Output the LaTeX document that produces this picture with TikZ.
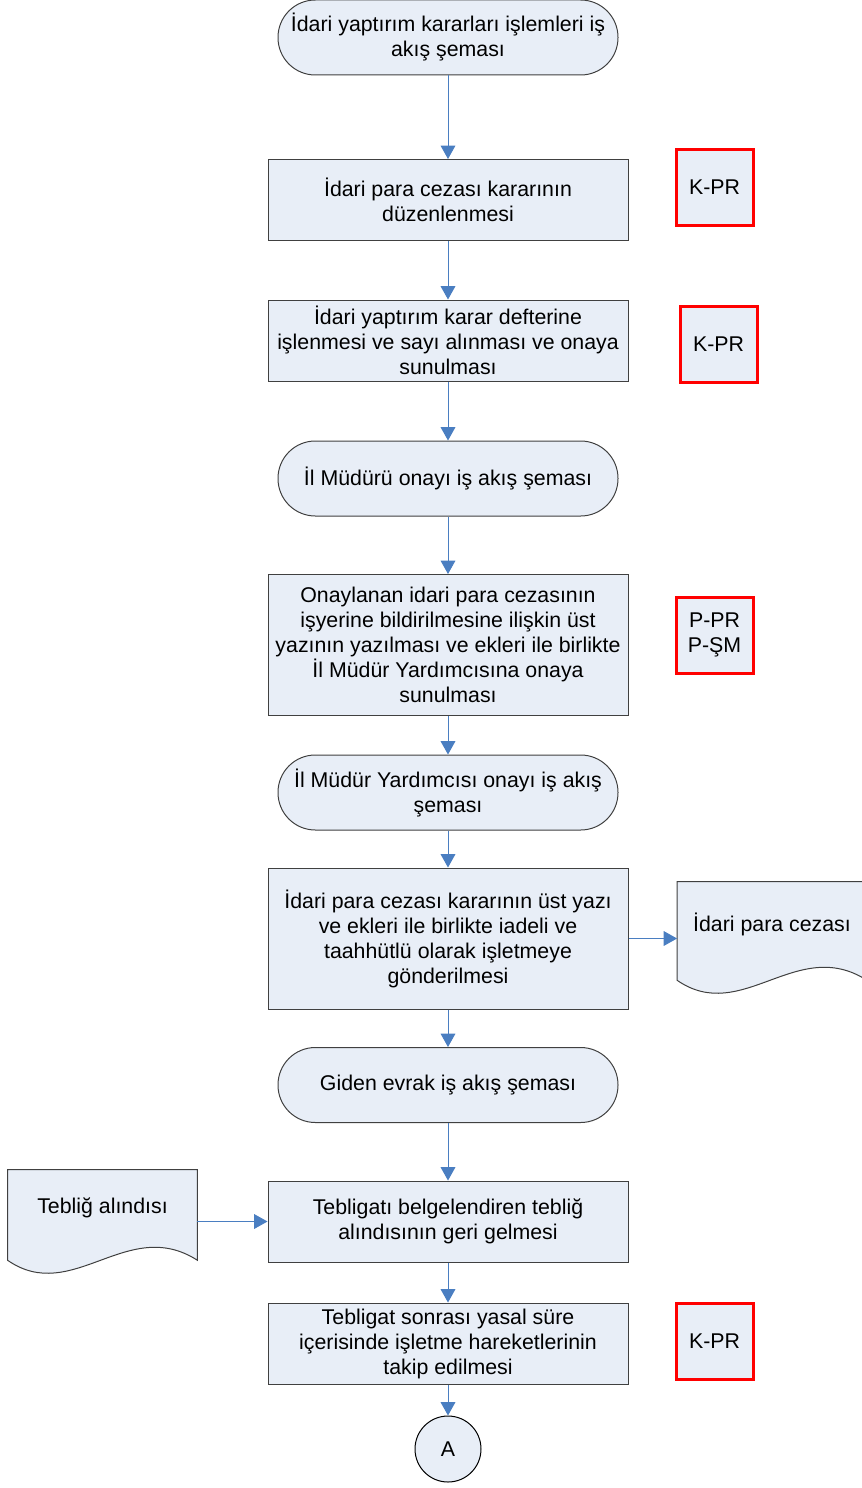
\documentclass[tikz,border=0pt]{standalone}
\usepackage{fontspec}
\setmainfont{Liberation Sans}
\usetikzlibrary{arrows.meta,calc,backgrounds}

\definecolor{boxfill}{RGB}{232,238,247}
\definecolor{linegrey}{RGB}{64,64,64}
\definecolor{flowblue}{RGB}{74,126,193}
\definecolor{refred}{RGB}{255,0,0}

% wavy bottom of a document node, drawn behind its text
\newcommand{\docshape}[1]{
  \begin{pgfonlayer}{background}
    \filldraw[draw=linegrey,fill=boxfill,line width=0.75pt]
      (#1.north west) -- (#1.north east) -- ($(#1.south east)+(0,14)$)
      .. controls +(-70,-45) and +(65,45) .. ($(#1.south west)+(0,14)$) -- cycle;
  \end{pgfonlayer}
}

\begin{document}
\begin{tikzpicture}[x=0.75pt,y=-0.75pt,
    every node/.style={font=\fontsize{16}{18.75}\selectfont,align=center,inner sep=0pt},
    proc/.style={rectangle,draw=linegrey,fill=boxfill,line width=0.75pt,
                 minimum width=270pt,minimum height=60.75pt},
    tallproc/.style={proc,minimum height=105.75pt},
    term/.style={rectangle,rounded corners=28pt,draw=linegrey,fill=boxfill,line width=0.75pt,
                 minimum width=255pt,minimum height=56.25pt},
    refbox/.style={rectangle,draw=refred,fill=boxfill,line width=2.25pt,
                   minimum width=57.75pt,minimum height=57pt},
    docnode/.style={rectangle,minimum width=142pt,minimum height=#1},
    conn/.style={circle,draw=black,fill=boxfill,line width=0.75pt,minimum size=49.5pt},
    flowline/.style={draw=flowblue,line width=0.75pt,-{Triangle[width=11pt,length=10pt]}}]

  \useasboundingbox (0,0) rectangle (861,1488);

  \node[term] (t1) at (448,37.5) {İdari yaptırım kararları işlemleri iş\\akış şeması};
  \node[proc] (b1) at (448,200) {İdari para cezası kararının\\düzenlenmesi};
  \node[refbox] (r1) at (714.5,187) {K-PR};
  \node[proc] (b2) at (448,340.5) {İdari yaptırım karar defterine\\işlenmesi ve sayı alınması ve onaya\\sunulması};
  \node[refbox] (r2) at (718.5,344) {K-PR};
  \node[term] (t2) at (448,478.5) {İl Müdürü onayı iş akış şeması};
  \node[tallproc] (b3) at (448,645) {Onaylanan idari para cezasının\\işyerine bildirilmesine ilişkin üst\\yazının yazılması ve ekleri ile birlikte\\İl Müdür Yardımcısına onaya\\sunulması};
  \node[refbox] (r3) at (714.5,635) {P-PR\\P-ŞM};
  \node[term] (t3) at (448,792.5) {İl Müdür Yardımcısı onayı iş akış\\şeması};
  \node[tallproc] (b4) at (448,938.5) {İdari para cezası kararının üst yazı\\ve ekleri ile birlikte iadeli ve\\taahhütlü olarak işletmeye\\gönderilmesi};
  \node[docnode=63pt] (d1) at (772,924) {İdari para cezası};
  \docshape{d1}
  \node[term] (t4) at (448,1085) {Giden evrak iş akış şeması};
  \node[proc] (b5) at (448,1221.5) {Tebligatı belgelendiren tebliğ\\alındısının geri gelmesi};
  \node[docnode=57pt] (d2) at (102.5,1208) {Tebliğ alındısı};
  \docshape{d2}
  \node[proc] (b6) at (448,1343.5) {Tebligat sonrası yasal süre\\içerisinde işletme hareketlerinin\\takip edilmesi};
  \node[refbox] (r4) at (714.5,1341.5) {K-PR};
  \node[conn] (cA) at (448,1449) {A};

  \draw[flowline] (t1) -- (b1);
  \draw[flowline] (b1) -- (b2);
  \draw[flowline] (b2) -- (t2);
  \draw[flowline] (t2) -- (b3);
  \draw[flowline] (b3) -- (t3);
  \draw[flowline] (t3) -- (b4);
  \draw[flowline] (b4.east) -- (b4.east -| d1.west);
  \draw[flowline] (b4) -- (t4);
  \draw[flowline] (t4) -- (b5);
  \draw[flowline] (d2.east |- b5.west) -- (b5.west);
  \draw[flowline] (b5) -- (b6);
  \draw[flowline] (b6) -- (cA);
\end{tikzpicture}
\end{document}
